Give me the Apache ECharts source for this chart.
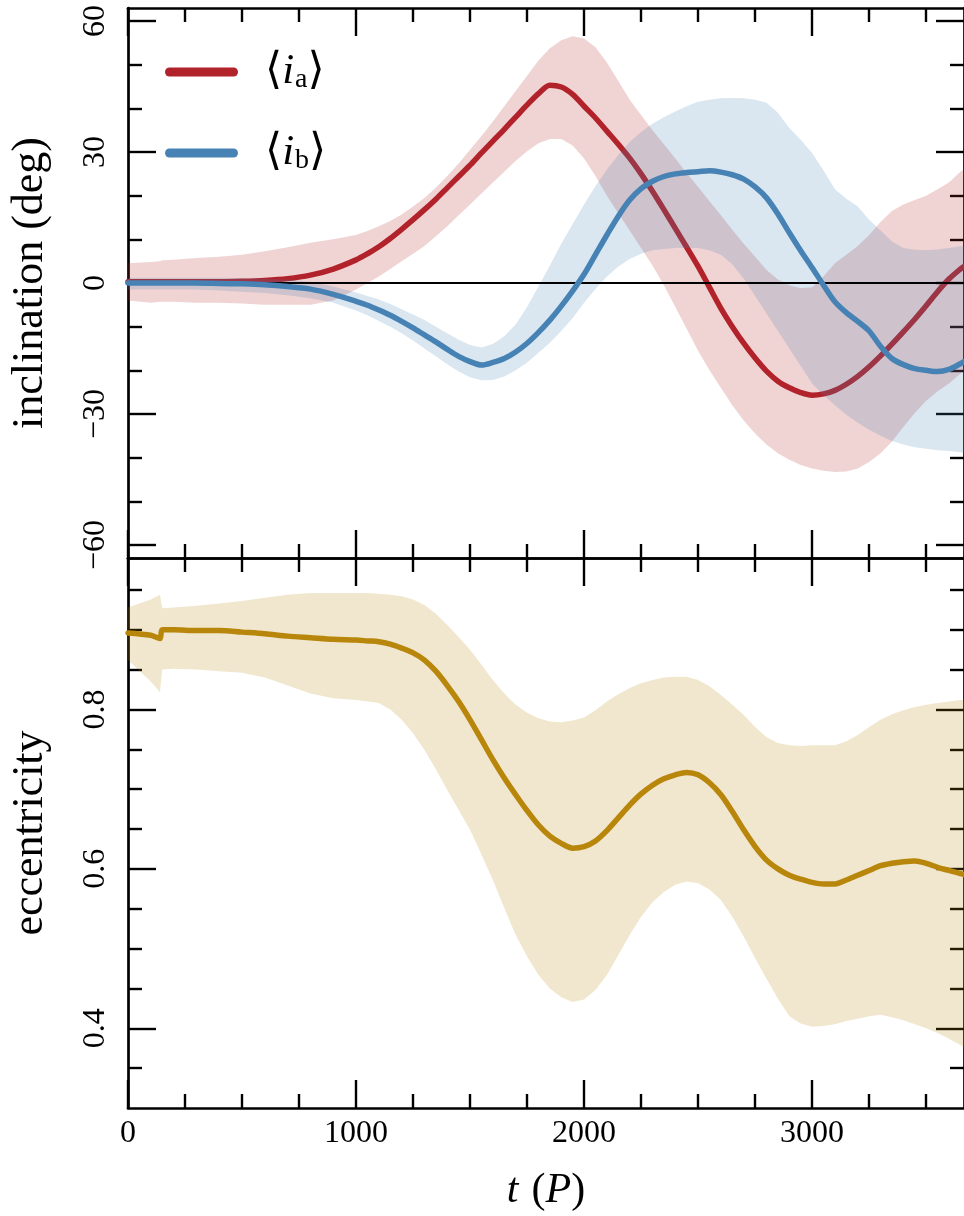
<!DOCTYPE html>
<html><head><meta charset="utf-8">
<script src="https://cdn.jsdelivr.net/npm/echarts@6/dist/echarts.min.js"></script>
<style>html,body{margin:0;padding:0;background:#fff}#c{width:964px;height:1216px}</style>
</head><body><div id="c"></div>
<script>
// ---- data (time in orbital periods P) ----
const T = [0,100,140,150,200,300,400,500,600,700,800,900,
  1000,1050,1100,1150,1200,1250,1300,1350,1400,1450,
  1500,1550,1600,1650,1700,1750,1800,1850,1900,1950,
  2000,2050,2100,2150,2200,2250,2300,2350,2400,2450,
  2500,2550,2600,2650,2700,2750,2800,2850,2900,2950,
  3000,3050,3100,3150,3200,3250,3300,3350,3400,3450,
  3500,3550,3600,3650,3666];

const iaMean = [0.3,0.3,0.3,0.3,0.3,0.3,0.3,0.4,0.6,1.0,1.8,3.2,
  5.3,6.7,8.3,10.2,12.3,14.5,16.8,19.2,21.8,24.4,
  27,29.8,32.5,35.2,38,40.8,43.4,45.3,44.9,43.2,
  40.5,37.8,34.8,31.8,28.6,25,21,16.8,12.5,8.2,
  3.8,-1,-5.8,-10,-13.8,-17.2,-20.2,-22.5,-24,-25.1,
  -25.7,-25.4,-24.6,-23.2,-21.4,-19.2,-16.7,-14,-11.2,-8.3,
  -5.2,-2,0.9,3.2,3.8];
const iaLo = [-4,-4.5,-4.3,-4.3,-4.3,-4.5,-4.5,-4.7,-5,-5,-5,-4,
  -1.5,0,1.5,3.2,5,6.7,8.5,10.7,13,15.5,
  18,20.5,23,25.5,28,30.2,32,33,33,31.5,
  28.5,24.5,20,16,12,8,4,-0.5,-5.5,-10.5,
  -15.5,-20,-24,-28,-31.5,-34.5,-37,-39,-40.5,-41.7,
  -42.5,-43,-43.3,-43.2,-42.5,-41,-39,-36.3,-33,-29.8,
  -27,-24.8,-23,-20.8,-20];
const iaHi = [4.5,4.8,5,5.2,5.3,5.7,6,6.5,7.3,8.2,9.2,10,
  11,11.9,13,14.2,15.7,17.5,19.5,21.8,24.5,27.4,
  30.5,33.7,37,40.5,44,47.5,51,53.8,55.6,56.5,
  56,54,50.5,46.3,42,38.5,35,31.8,28.5,25.2,
  22,18.7,15.5,12.2,9,6,3,0.8,-0.5,-1.2,
  -1,1.5,4.5,6.5,8.5,11,14,16.5,18,19,
  20,21.5,23,25.5,26];

const ibMean = [0,0,0,0,0,0,-0.1,-0.2,-0.4,-0.8,-1.4,-2.6,
  -4.2,-5.1,-6.2,-7.4,-8.8,-10.3,-11.9,-13.5,-15.2,-16.8,
  -18,-18.8,-18.2,-17.3,-15.8,-13.8,-11.3,-8.5,-5.3,-1.8,
  2,6.5,11,15.3,19,21.6,23.3,24.4,25,25.3,
  25.5,25.7,25.4,24.8,23.8,22,19.5,15.8,11.5,7.4,
  3.5,-0.5,-4.3,-6.8,-8.8,-11,-14.5,-17.3,-18.7,-19.6,
  -20,-20.3,-19.8,-18.5,-18];
const ibLo = [-1.5,-1.5,-1.5,-1.5,-1.5,-1.5,-1.7,-2,-2.3,-2.8,-3.5,-4.5,
  -6.3,-7.4,-8.7,-10,-11.5,-13.2,-15,-16.8,-18.6,-20.3,
  -21.6,-22.3,-22.2,-21.4,-20,-18.2,-16,-13.7,-11,-8,
  -4.5,-1.4,1.5,3.8,5.5,6.7,7.5,7.8,8,8,
  8,7.5,6.5,4.3,1,-3,-7,-11,-15,-19,
  -23,-25.7,-28,-30.2,-32,-33.6,-35,-36.2,-37,-37.6,
  -38,-38.3,-38.5,-38.8,-39];
const ibHi = [1.2,1.2,1.2,1.2,1.2,1.2,1.2,1.1,1,0.8,0.3,-0.8,
  -2.2,-3,-3.8,-4.8,-6,-7.2,-8.5,-10,-11.5,-13,
  -14.2,-14.8,-14,-12.2,-9.5,-5.5,-0.8,4,9,13.5,
  18,22.2,26,29.3,32.3,34.6,36.5,38,39.3,40.5,
  41.5,42,42.3,42.4,42.3,42,41.3,39,35.5,32.8,
  29.8,25.8,21.5,19.3,17.5,14.5,12,9.5,8,7.6,
  7.5,7.7,8,8.4,8.5];

const eMean = [0.896,0.893,0.889,0.9,0.9,0.899,0.899,0.897,0.895,0.892,0.89,0.888,
  0.887,0.886,0.885,0.882,0.877,0.871,0.862,0.848,0.83,0.81,
  0.787,0.762,0.737,0.714,0.693,0.673,0.655,0.641,0.632,0.626,
  0.628,0.635,0.648,0.664,0.68,0.694,0.705,0.713,0.718,0.721,
  0.718,0.708,0.693,0.672,0.649,0.628,0.611,0.6,0.592,0.587,
  0.583,0.581,0.581,0.586,0.592,0.598,0.604,0.607,0.609,0.61,
  0.607,0.602,0.598,0.594,0.593];
const eHi = [0.928,0.938,0.944,0.927,0.928,0.93,0.933,0.936,0.94,0.944,0.946,0.946,
  0.946,0.946,0.945,0.944,0.942,0.938,0.931,0.92,0.906,0.891,
  0.875,0.856,0.837,0.82,0.806,0.796,0.789,0.785,0.784,0.786,
  0.79,0.799,0.81,0.819,0.827,0.833,0.837,0.84,0.841,0.841,
  0.837,0.829,0.818,0.806,0.793,0.778,0.765,0.758,0.755,0.754,
  0.755,0.755,0.755,0.76,0.768,0.778,0.787,0.794,0.799,0.803,
  0.806,0.808,0.81,0.812,0.812];
const eLo = [0.862,0.835,0.822,0.85,0.851,0.85,0.848,0.846,0.84,0.83,0.82,0.814,
  0.812,0.81,0.808,0.8,0.787,0.77,0.749,0.725,0.699,0.674,
  0.649,0.618,0.586,0.551,0.517,0.49,0.467,0.45,0.439,0.433,
  0.436,0.448,0.467,0.492,0.517,0.54,0.558,0.571,0.58,0.584,
  0.582,0.574,0.561,0.54,0.515,0.488,0.462,0.437,0.415,0.406,
  0.402,0.403,0.405,0.409,0.412,0.415,0.417,0.414,0.41,0.405,
  0.4,0.394,0.387,0.379,0.376];

[iaMean,iaLo,iaHi,ibMean,ibLo,ibHi,eMean,eHi,eLo].forEach((a,k) => {
  if (a.length !== T.length) throw new Error('length mismatch in array ' + k + ': ' + a.length + ' vs ' + T.length);
});

// ---- ticks ----
const xMajor = [0,1000,2000,3000];
const xMajorLabels = ['0','1000','2000','3000'];
const xMinor = [250,500,750,1250,1500,1750,2250,2500,2750,3250,3500];
const incMajor = [-60,-30,0,30,60];
const incLabels = ['\u221260','\u221230','0','30','60'];
const incMinor = [-50,-40,-20,-10,10,20,40,50];
const eccMajor = [0.4,0.6,0.8];
const eccLabels = ['0.4','0.6','0.8'];
const eccMinor = [0.35,0.45,0.5,0.55,0.65,0.7,0.75,0.85,0.9,0.95];

const X_MAX = 3666, INC_MIN = -63, INC_MAX = 63, ECC_MIN = 0.3, ECC_MAX = 0.99;

const SERIF = "'Liberation Serif', 'DejaVu Serif', serif";
const RED = '#b2222a', BLUE = '#4682b4', GOLD = '#b8860b';

function lbl(ticks, labels) {
  return v => { const i = ticks.findIndex(t => Math.abs(t - v) < 1e-9); return i >= 0 ? labels[i] : ''; };
}
function xAx(gi, pos, ticks, len, line, labels) {
  const a = {type:'value', gridIndex:gi, position:pos, min:0, max:X_MAX,
    axisLine:{show:line, onZero:false, lineStyle:{color:'#000', width:2.7}},
    axisTick:{show:true, inside:true, length:len, customValues:ticks, lineStyle:{color:'#000', width:2.4}},
    axisLabel:{show:false}, splitLine:{show:false}, minorTick:{show:false}};
  if (labels) {
    a.axisLabel = {show:true, customValues:ticks, formatter:lbl(ticks, labels), margin:10,
      color:'#000', fontFamily:SERIF, fontSize:32};
  }
  return a;
}
function yAx(gi, pos, ticks, len, line, mn, mx, labels, name) {
  const a = {type:'value', gridIndex:gi, position:pos, min:mn, max:mx,
    axisLine:{show:line, onZero:false, lineStyle:{color:'#000', width:2.7}},
    axisTick:{show:true, inside:true, length:len, customValues:ticks, lineStyle:{color:'#000', width:2.4}},
    axisLabel:{show:false}, splitLine:{show:false}, minorTick:{show:false}};
  if (labels) {
    a.axisLabel = {show:true, customValues:ticks, formatter:lbl(ticks, labels), margin:16, rotate:90,
      color:'#000', fontFamily:SERIF, fontSize:32};
  }
  if (name) {
    a.name = name; a.nameLocation = 'middle'; a.nameRotate = 90; a.nameGap = 76;
    a.nameTextStyle = {fontFamily:SERIF, fontSize:44, color:'#000'};
  }
  return a;
}

const xAxes = [
  xAx(0,'bottom',xMajor,28,true,null), xAx(0,'bottom',xMinor,14,false,null),
  xAx(0,'top',xMajor,28,true,null),    xAx(0,'top',xMinor,14,false,null),
  xAx(1,'bottom',xMajor,28,true,xMajorLabels), xAx(1,'bottom',xMinor,14,false,null),
  xAx(1,'top',xMajor,28,true,null),    xAx(1,'top',xMinor,14,false,null)
];
xAxes[4].name = '{i|t}{g|}{n|(}{i|P}{n|)}';
xAxes[4].nameLocation = 'middle';
xAxes[4].nameGap = 62;
xAxes[4].nameTextStyle = {rich:{
  i:{fontFamily:SERIF, fontStyle:'italic', fontSize:42, color:'#000'},
  g:{width:13},
  n:{fontFamily:SERIF, fontSize:42, color:'#000'}}};

const yAxes = [
  yAx(0,'left',incMajor,28,true,INC_MIN,INC_MAX,incLabels,'inclination (deg)'),
  yAx(0,'left',incMinor,14,false,INC_MIN,INC_MAX,null,null),
  yAx(0,'right',incMajor,28,true,INC_MIN,INC_MAX,null,null),
  yAx(0,'right',incMinor,14,false,INC_MIN,INC_MAX,null,null),
  yAx(1,'left',eccMajor,28,true,ECC_MIN,ECC_MAX,eccLabels,'eccentricity'),
  yAx(1,'left',eccMinor,14,false,ECC_MIN,ECC_MAX,null,null),
  yAx(1,'right',eccMajor,28,true,ECC_MIN,ECC_MAX,null,null),
  yAx(1,'right',eccMinor,14,false,ECC_MIN,ECC_MAX,null,null)
];

function pts(arr) { return T.map((t,i) => [t, arr[i]]); }
const SM = 0.3;
// shaded band between lo and hi, drawn as one polygon through the axes' coord()
function band(name, gi, yi, lo, hi, color, z) {
  return {type:'custom', name:name, xAxisIndex:gi, yAxisIndex:yi, silent:true, z:z, clip:true,
    data:T.map((t,i) => [t, lo[i], hi[i]]),
    encode:{x:0, y:[1,2]},
    renderItem:(params, api) => {
      if (params.dataIndex !== 0) return null;
      const up = T.map((t,i) => api.coord([t, hi[i]]));
      const dn = T.map((t,i) => api.coord([t, lo[i]])).reverse();
      return {type:'polygon', shape:{points:up.concat(dn)}, style:{fill:color}, silent:true};
    }};
}
function meanLine(name, gi, yi, arr, color, z) {
  return {type:'line', name:name, xAxisIndex:gi, yAxisIndex:yi, data:pts(arr), symbol:'none', smooth:SM,
    color:color, itemStyle:{color:color}, lineStyle:{color:color, width:5.5, cap:'round', join:'round'}, silent:true, z:z};
}

const series = [
  band('ra', 0, 0, iaLo, iaHi, 'rgba(178,34,34,0.2)', 1),
  meanLine('ia', 0, 0, iaMean, RED, 2),
  band('rb', 0, 0, ibLo, ibHi, 'rgba(70,130,180,0.2)', 3),
  {type:'line', name:'zero', xAxisIndex:0, yAxisIndex:0, data:[], symbol:'none', silent:true, z:5,
    markLine:{silent:true, symbol:['none','none'], label:{show:false}, z:5,
      lineStyle:{color:'#000', width:2.2, type:'solid'}, data:[{yAxis:0}]}},
  meanLine('ib', 0, 0, ibMean, BLUE, 6),
  band('re', 4, 4, eLo, eHi, 'rgba(184,134,11,0.2)', 1),
  meanLine('e', 4, 4, eMean, GOLD, 2)
];

const CAPSULE = 'path://M4.5,0 L68.5,0 A4.5,4.5 0 0 1 68.5,9 L4.5,9 A4.5,4.5 0 0 1 4.5,0 Z';
const legendRich = {
  sp:{width:22},
  b:{fontFamily:"'DejaVu Sans', sans-serif", fontSize:44, color:'#000'},
  i:{fontFamily:SERIF, fontStyle:'italic', fontSize:43, color:'#000'},
  s:{fontFamily:SERIF, fontSize:28, color:'#000', padding:[16,0,0,1]}
};
function legendFor(name, sub, top) {
  return {data:[name], left:165, top:top, orient:'vertical', padding:0, itemWidth:73, itemHeight:9,
    icon:CAPSULE, selectedMode:false,
    formatter:() => '{sp|}{b|\u27E8}{i|i}{s|' + sub + '}{b|\u27E9}',
    textStyle:{rich:legendRich}};
}

const option = {
  animation:false,
  backgroundColor:'#fff',
  grid:[
    {left:127, top:8, width:839, height:550, containLabel:false},
    {left:127, top:558, width:839, height:550, containLabel:false}
  ],
  xAxis:xAxes,
  yAxis:yAxes,
  legend:[legendFor('ia','a',50), legendFor('ib','b',131)],
  series:series
};

const chart = echarts.init(document.getElementById('c'), null, {renderer:'canvas'});
chart.setOption(option);
</script>
</body></html>
